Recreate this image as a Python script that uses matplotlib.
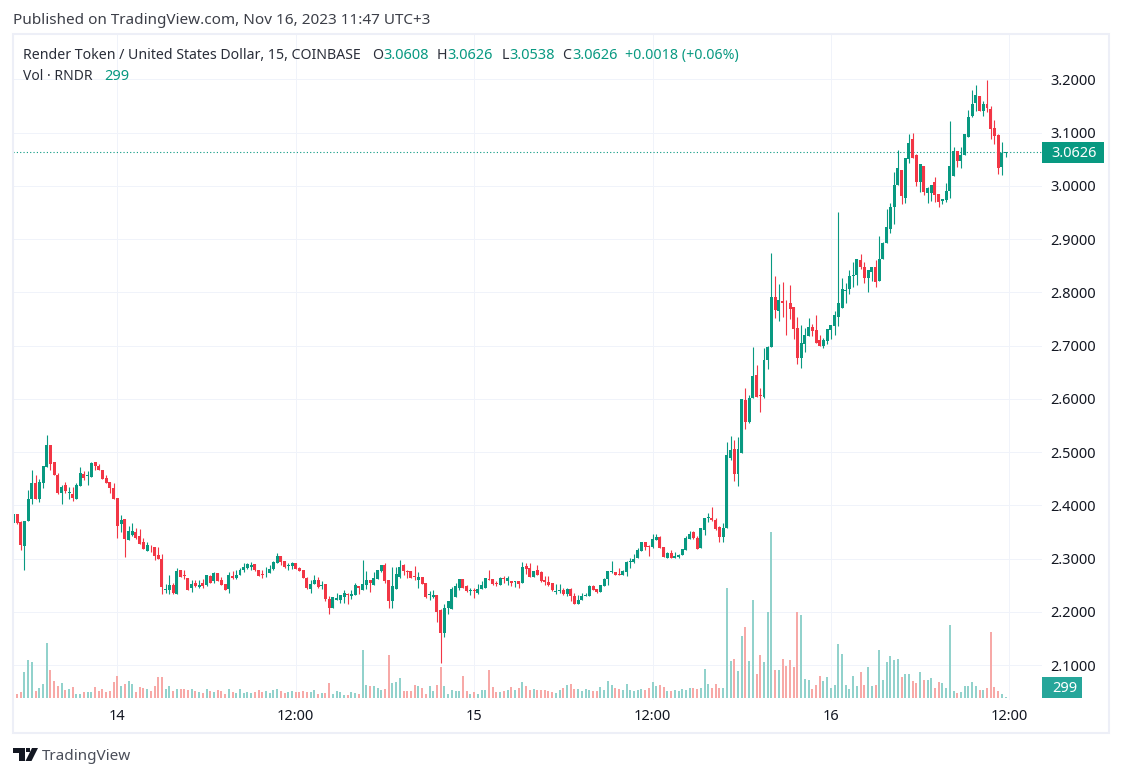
import numpy as np
import matplotlib
matplotlib.use("Agg")
from matplotlib import pyplot as plt
from matplotlib.patches import Rectangle, Polygon

# 15 min candles, COINBASE RNDR/USD
opens = [
    2.366,2.384,2.369,2.324,2.370,2.411,2.442,2.411,2.441,2.471,
    2.514,2.482,2.457,2.424,2.439,2.423,2.422,2.412,2.437,2.459,
    2.455,2.454,2.482,2.474,2.467,2.452,2.444,2.433,2.414,2.364,
    2.375,2.334,2.345,2.349,2.343,2.332,2.315,2.324,2.322,2.306,
    2.300,2.240,2.241,2.251,2.233,2.278,2.268,2.264,2.244,2.255,
    2.246,2.255,2.251,2.268,2.257,2.272,2.259,2.253,2.242,2.268,
    2.264,2.270,2.278,2.283,2.285,2.289,2.279,2.271,2.272,2.272,
    2.280,2.291,2.304,2.295,2.286,2.286,2.291,2.282,2.278,2.263,
    2.242,2.252,2.259,2.249,2.252,2.224,2.208,2.222,2.222,2.227,
    2.233,2.229,2.231,2.248,2.240,2.250,2.259,2.250,2.261,2.276,
    2.287,2.259,2.220,2.242,2.265,2.287,2.276,2.276,2.267,2.259,
    2.265,2.255,2.231,2.227,2.231,2.203,2.161,2.208,2.205,2.227,
    2.244,2.261,2.248,2.239,2.240,2.235,2.242,2.244,2.261,2.261,
    2.255,2.250,2.263,2.257,2.257,2.256,2.257,2.254,2.286,2.282,
    2.265,2.278,2.274,2.259,2.256,2.254,2.237,2.239,2.241,2.233,
    2.243,2.230,2.215,2.222,2.230,2.230,2.248,2.243,2.237,2.248,
    2.261,2.274,2.274,2.271,2.269,2.274,2.293,2.293,2.301,2.314,
    2.332,2.323,2.321,2.334,2.340,2.321,2.301,2.310,2.301,2.302,
    2.306,2.316,2.336,2.349,2.338,2.319,2.353,2.376,2.377,2.372,
    2.359,2.340,2.357,2.488,2.505,2.458,2.499,2.598,2.557,2.602,
    2.645,2.608,2.604,2.673,2.698,2.792,2.765,2.784,2.780,2.779,
    2.773,2.733,2.677,2.703,2.718,2.735,2.730,2.711,2.700,2.709,
    2.730,2.737,2.754,2.771,2.802,2.807,2.831,2.833,2.861,2.848,
    2.827,2.839,2.848,2.821,2.862,2.892,2.918,2.961,3.002,3.029,
    2.978,3.051,3.087,3.057,3.008,3.038,2.986,2.987,3.008,2.984,
    2.971,2.974,2.991,3.018,3.066,3.046,3.057,3.091,3.132,3.156,
    3.169,3.141,3.154,3.145,3.109,3.096,3.036,3.0608]
highs = [
    2.384,2.384,2.371,2.371,2.429,2.467,2.456,2.449,2.474,2.532,
    2.514,2.482,2.461,2.439,2.444,2.435,2.435,2.441,2.471,2.465,
    2.465,2.482,2.482,2.478,2.467,2.457,2.444,2.442,2.414,2.381,
    2.375,2.362,2.367,2.358,2.356,2.339,2.332,2.326,2.322,2.322,
    2.308,2.253,2.270,2.255,2.283,2.278,2.278,2.264,2.259,2.259,
    2.259,2.262,2.270,2.270,2.274,2.272,2.266,2.253,2.274,2.276,
    2.279,2.283,2.291,2.292,2.294,2.289,2.279,2.278,2.284,2.287,
    2.295,2.310,2.304,2.295,2.291,2.293,2.291,2.284,2.278,2.265,
    2.259,2.269,2.265,2.257,2.252,2.229,2.227,2.235,2.231,2.240,
    2.235,2.240,2.254,2.248,2.297,2.276,2.259,2.274,2.278,2.287,
    2.291,2.259,2.284,2.284,2.297,2.289,2.278,2.276,2.286,2.274,
    2.265,2.255,2.239,2.240,2.231,2.205,2.214,2.220,2.246,2.254,
    2.261,2.261,2.250,2.244,2.244,2.252,2.257,2.263,2.278,2.261,
    2.257,2.265,2.267,2.267,2.257,2.257,2.257,2.293,2.291,2.291,
    2.276,2.288,2.276,2.267,2.267,2.254,2.252,2.252,2.245,2.245,
    2.245,2.235,2.231,2.235,2.235,2.250,2.250,2.243,2.250,2.263,
    2.276,2.295,2.274,2.282,2.278,2.295,2.301,2.308,2.319,2.332,
    2.332,2.325,2.347,2.347,2.342,2.321,2.312,2.316,2.312,2.308,
    2.317,2.342,2.351,2.351,2.342,2.358,2.377,2.386,2.396,2.377,
    2.362,2.366,2.519,2.530,2.523,2.529,2.600,2.621,2.608,2.698,
    2.664,2.621,2.696,2.700,2.874,2.831,2.816,2.820,2.786,2.814,
    2.773,2.754,2.739,2.733,2.752,2.741,2.758,2.720,2.715,2.732,
    2.739,2.764,2.951,2.827,2.818,2.841,2.857,2.863,2.872,2.856,
    2.842,2.848,2.861,2.905,2.894,2.957,2.967,3.025,3.068,3.029,
    3.053,3.098,3.100,3.059,3.040,3.038,2.997,3.001,3.016,2.984,
    2.976,3.006,3.121,3.072,3.066,3.072,3.098,3.143,3.179,3.190,
    3.169,3.160,3.199,3.149,3.123,3.098,3.083,3.0626]
lows = [
    2.366,2.364,2.316,2.278,2.370,2.403,2.411,2.407,2.433,2.471,
    2.466,2.456,2.422,2.403,2.424,2.411,2.409,2.411,2.437,2.448,
    2.439,2.454,2.467,2.467,2.450,2.441,2.424,2.412,2.339,2.349,
    2.302,2.334,2.343,2.336,2.328,2.317,2.315,2.313,2.298,2.300,
    2.233,2.236,2.234,2.233,2.233,2.266,2.261,2.240,2.238,2.246,
    2.244,2.244,2.249,2.255,2.255,2.257,2.251,2.240,2.236,2.262,
    2.261,2.270,2.274,2.281,2.279,2.276,2.268,2.264,2.265,2.272,
    2.278,2.291,2.287,2.282,2.278,2.280,2.280,2.276,2.263,2.242,
    2.235,2.252,2.244,2.242,2.220,2.195,2.208,2.222,2.216,2.216,
    2.214,2.224,2.231,2.233,2.240,2.242,2.237,2.250,2.261,2.274,
    2.254,2.207,2.207,2.242,2.263,2.269,2.263,2.263,2.259,2.244,
    2.252,2.225,2.223,2.225,2.180,2.103,2.152,2.195,2.205,2.227,
    2.240,2.244,2.237,2.231,2.225,2.233,2.242,2.244,2.259,2.250,
    2.248,2.250,2.255,2.250,2.248,2.246,2.244,2.254,2.271,2.265,
    2.265,2.269,2.256,2.250,2.248,2.239,2.233,2.235,2.231,2.230,
    2.220,2.215,2.215,2.222,2.230,2.230,2.241,2.235,2.237,2.248,
    2.250,2.273,2.269,2.269,2.269,2.267,2.282,2.291,2.301,2.314,
    2.316,2.304,2.319,2.334,2.319,2.302,2.301,2.301,2.301,2.301,
    2.306,2.316,2.336,2.336,2.317,2.319,2.345,2.368,2.370,2.353,
    2.332,2.332,2.357,2.486,2.445,2.437,2.499,2.544,2.555,2.602,
    2.604,2.576,2.602,2.656,2.698,2.752,2.747,2.754,2.720,2.749,
    2.713,2.666,2.657,2.688,2.718,2.718,2.705,2.700,2.696,2.703,
    2.713,2.720,2.737,2.771,2.779,2.797,2.810,2.814,2.844,2.818,
    2.801,2.822,2.810,2.821,2.862,2.892,2.912,2.929,3.002,2.965,
    2.967,3.042,3.053,2.999,2.989,2.982,2.967,2.971,2.969,2.961,
    2.965,2.969,2.978,3.018,3.036,3.034,3.057,3.091,3.130,3.141,
    3.141,3.132,3.138,3.087,3.078,3.023,3.021,3.0538]
closes = [
    2.384,2.366,2.326,2.371,2.412,2.442,2.411,2.444,2.474,2.514,
    2.478,2.457,2.424,2.434,2.426,2.424,2.414,2.439,2.461,2.452,
    2.456,2.480,2.474,2.467,2.450,2.442,2.433,2.412,2.361,2.373,
    2.336,2.351,2.351,2.339,2.328,2.317,2.326,2.323,2.304,2.300,
    2.246,2.242,2.251,2.236,2.277,2.266,2.267,2.240,2.253,2.249,
    2.251,2.249,2.270,2.255,2.272,2.257,2.251,2.240,2.270,2.264,
    2.270,2.279,2.285,2.289,2.287,2.278,2.268,2.270,2.273,2.280,
    2.293,2.304,2.293,2.284,2.287,2.291,2.280,2.276,2.263,2.244,
    2.252,2.259,2.246,2.250,2.224,2.207,2.227,2.225,2.231,2.235,
    2.231,2.233,2.250,2.244,2.252,2.259,2.254,2.263,2.278,2.287,
    2.257,2.220,2.248,2.271,2.284,2.276,2.275,2.263,2.265,2.265,
    2.252,2.227,2.233,2.231,2.199,2.161,2.208,2.220,2.242,2.248,
    2.261,2.244,2.239,2.240,2.239,2.242,2.250,2.263,2.260,2.252,
    2.252,2.263,2.261,2.263,2.255,2.257,2.252,2.284,2.280,2.265,
    2.276,2.269,2.258,2.256,2.250,2.241,2.238,2.241,2.233,2.243,
    2.230,2.215,2.222,2.230,2.232,2.248,2.241,2.237,2.250,2.261,
    2.276,2.276,2.269,2.269,2.276,2.293,2.295,2.299,2.316,2.331,
    2.321,2.322,2.336,2.340,2.319,2.302,2.310,2.301,2.304,2.306,
    2.317,2.338,2.347,2.338,2.317,2.358,2.377,2.377,2.372,2.355,
    2.340,2.357,2.495,2.503,2.458,2.506,2.600,2.557,2.602,2.643,
    2.604,2.606,2.673,2.698,2.792,2.767,2.786,2.779,2.779,2.769,
    2.732,2.677,2.705,2.720,2.735,2.728,2.705,2.700,2.711,2.732,
    2.739,2.758,2.779,2.807,2.803,2.831,2.833,2.863,2.848,2.827,
    2.842,2.848,2.820,2.863,2.892,2.922,2.961,3.002,3.034,2.980,
    3.053,3.081,3.053,3.008,3.040,2.989,2.995,3.001,2.982,2.969,
    2.976,2.991,3.038,3.066,3.046,3.057,3.098,3.130,3.154,3.171,
    3.141,3.153,3.147,3.106,3.093,3.034,3.062,3.0626]
volumes = [
    1200,1600,2400,10400,15200,14400,2800,4000,5600,22000,
    11200,6800,4800,6000,3200,3600,4400,1600,1600,2400,
    2400,2400,4400,2800,3600,2400,2800,6400,8800,4800,
    5600,6800,5600,2400,4400,4000,3600,2800,4800,8400,
    8400,3600,4800,2800,3600,3600,3600,3200,3600,2800,
    2400,2000,3600,2800,2400,3200,2800,1600,3600,2400,
    2000,3600,2000,2400,2000,2400,3200,2400,2800,2000,
    3200,3600,2800,2000,2400,2800,2400,2400,2800,2400,
    2400,3200,1600,2000,2000,6000,1600,2800,2400,1200,
    1200,2400,2000,1600,19200,5200,4800,4800,4000,3200,
    3600,17200,6000,6400,8000,2800,2800,2800,5200,4800,
    4000,1600,4800,2800,5200,12400,4800,1600,3200,2800,
    2800,8800,2800,1600,2400,1600,3200,3200,11200,4400,
    2400,2400,2800,3200,4400,3200,4000,6400,4800,3200,
    3600,3200,3200,3200,2800,2400,2000,3200,4000,5200,
    5600,3600,3600,2800,3600,3200,2800,2800,4400,3200,
    6800,5200,4000,3600,3200,5600,3200,2800,3200,3600,
    3200,4000,6400,4800,5200,4400,2800,2800,3200,2800,
    3600,3200,4000,4000,3600,4000,11600,5600,4000,5600,
    4000,4000,44000,14800,15600,10800,24800,28400,14800,39200,
    9600,17200,14400,34400,66400,11200,11200,15600,12800,15200,
    12400,34400,33200,7600,7200,3600,5200,8800,6800,8400,
    4000,5200,21600,17600,5200,3600,8800,4800,10400,5200,
    12400,4800,5200,19200,7200,14400,16800,15200,15600,8400,
    9600,9600,6800,6000,10400,7200,7200,8000,4000,6400,
    6000,4000,29200,2800,2000,2400,4800,4800,6400,4800,
    3200,3200,4000,26400,4400,2800,1600,299]

price_ticks = [2.1, 2.2, 2.3, 2.4, 2.5, 2.6, 2.7, 2.8, 2.9, 3.0, 3.1, 3.2]
time_ticks = [28, 76, 124, 172, 220, 268]
time_labels = ["14", "12:00", "15", "12:00", "16", "12:00"]
last_price = 3.0626
last_volume = 299

GREEN = "#089981"
RED = "#F23645"
GREEN_VOL = "#92D2CC"
RED_VOL = "#F7A9A7"
GRID = "#F0F3FA"
TEXT = "#131722"
W, H = 1122, 777
plt.rcParams["font.family"] = "Noto Sans"


def fx(px):
    return px / W


def fy(py):
    return 1 - py / H


def label(px, py, s, color=TEXT, size=10.2, **kw):
    fig.text(fx(px), fy(py), s, color=color, fontsize=size, ha="left", va="center", **kw)


fig = plt.figure(figsize=(W / 100, H / 100), dpi=100, facecolor="white")

# outer frame
fig.patches.append(Rectangle((fx(13), fy(733)), (1109 - 13) / W, (733 - 34) / H,
                             transform=fig.transFigure, fill=False,
                             edgecolor="#EDEFF7", linewidth=1.5))

ax = fig.add_axes([fx(13), fy(700), (1042 - 13) / W, (700 - 34) / H])
ax.set_xlim(-0.08, 276.8)
ax.set_ylim(3.2 - 620.7 / 532.5, 3.2 + 45.3 / 532.5)
for s in ax.spines.values():
    s.set_visible(False)
ax.grid(True, color=GRID, linewidth=0.72)
ax.set_axisbelow(True)

o = np.array(opens)
h = np.array(highs)
l = np.array(lows)
c = np.array(closes)
x = np.arange(len(o))
up = c >= o
colors = np.where(up, GREEN, RED)

ax.axhline(last_price, color=GREEN, linewidth=0.8, linestyle=(0, (1, 2)), zorder=1.5)
ax.vlines(x, l, h, colors=colors, linewidth=0.8, zorder=2)
ax.bar(x, np.maximum(np.abs(c - o), 0.0015), bottom=np.minimum(o, c), width=0.8,
       color=colors, linewidth=0, zorder=3)

# volume pane shares the same area, 1 px = 400 units
vol_ax = ax.twinx()
vol_ax.set_ylim(-800, (698 - 34) * 400)
vol_ax.bar(x, volumes, width=0.54, color=np.where(up, GREEN_VOL, RED_VOL), linewidth=0)
vol_ax.set_yticks([])
for s in vol_ax.spines.values():
    s.set_visible(False)

# twinx moves the price ticks to the left, so set them after it
ax.yaxis.tick_right()
ax.set_yticks(price_ticks, ["%.4f" % p for p in price_ticks])
ax.set_xticks(time_ticks, time_labels)
ax.tick_params(axis="both", length=0, labelsize=10.5, labelcolor=TEXT)
ax.tick_params(axis="y", pad=6)
ax.tick_params(axis="x", pad=6.5)

# price and volume tags
fig.patches.append(Rectangle((fx(1042), fy(163)), 62 / W, 21 / H, transform=fig.transFigure,
                             facecolor=GREEN, edgecolor="none"))
label(1051, 153.5, "%.4f" % last_price, color="white", size=10.5, fontweight="medium")
fig.patches.append(Rectangle((fx(1042), fy(698)), 40 / W, 21 / H, transform=fig.transFigure,
                             facecolor="#26A69A", edgecolor="none"))
label(1052, 688.5, str(last_volume), color="white", size=10.5)

# header and legend
label(13, 20.5, "Published on TradingView.com, Nov 16, 2023 11:47 UTC+3", color="#3C3F48", size=11)
label(23, 55.5, "Render Token / United States Dollar, 15, COINBASE", color="#2A2E39")
for px, s in [(372.5, "O"), (437, "H"), (501.5, "L"), (562, "C")]:
    label(px, 55.5, s, color="#2A2E39")
for px, s in [(383, "3.0608"), (447, "3.0626"), (509, "3.0538"), (572, "3.0626")]:
    label(px, 55.5, s, color=GREEN, size=10.5)
label(625, 55.5, "+0.0018 (+0.06%)", color=GREEN)
label(23, 76.5, "Vol · RNDR", color="#2A2E39", size=10)
label(104, 76.5, "299", color=GREEN, size=10.5)

# logo
fig.patches.append(Polygon([(fx(13), fy(748)), (fx(25), fy(748)), (fx(25), fy(761)),
                            (fx(18.5), fy(761)), (fx(18.5), fy(753)), (fx(13), fy(753))],
                           transform=fig.transFigure, facecolor="#131722", edgecolor="none"))
fig.patches.append(Polygon([(fx(32), fy(748)), (fx(38), fy(748)), (fx(31.5), fy(761)),
                            (fx(25.5), fy(761))],
                           transform=fig.transFigure, facecolor="#131722", edgecolor="none"))
fig.patches.append(Rectangle((fx(26.5), fy(752)), 3.6 / W, 3.8 / H, transform=fig.transFigure,
                             facecolor="#131722", edgecolor="none"))
label(42, 756.5, "TradingView", color="#4A4E59", size=11)

fig.savefig("out.png", dpi=100)
